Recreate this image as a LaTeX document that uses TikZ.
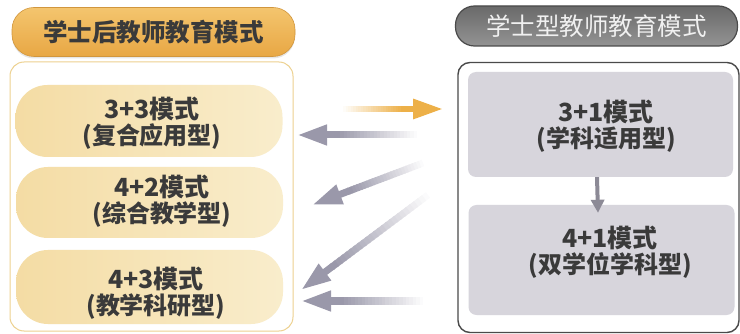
\documentclass[tikz,border=0pt]{standalone}
\usepackage{fontspec}
\setmainfont{Noto Sans CJK SC}
\usetikzlibrary{calc,arrows.meta,shadows}
\definecolor{orgA}{HTML}{F4C56E}
\definecolor{orgB}{HTML}{E8A744}
\definecolor{pillL}{HTML}{F4DCA4}
\definecolor{pillR}{HTML}{F9EDCC}
\definecolor{frameO}{HTML}{EDD190}
\definecolor{txt}{HTML}{3A3A3A}
\definecolor{gbox}{HTML}{D7D5DC}
\definecolor{frameG}{HTML}{4A4A4A}
\definecolor{gA}{HTML}{6A6A6A}
\definecolor{gB}{HTML}{939393}
\definecolor{arrG}{HTML}{9A98AA}
\definecolor{arrO}{HTML}{EDB048}
\definecolor{arrD}{HTML}{8C8A96}
\newcommand{\fadearrow}[4]{% from, to, color, shaft width
  \coordinate (fab) at ($(#2)!40pt!(#1)$);
  \foreach \i in {0,...,23}{
    \pgfmathtruncatemacro{\pct}{(\i+1)*100/24}
    \draw[line width=#4, #3!\pct!white] ($(#1)!\i/24!(fab)$) -- ($(#1)!{(\i+1.4)/24}!(fab)$);
  }
  \draw[#3, line width=#4, -{Triangle[length=30pt,width=19pt]}] (fab) -- (#2);
}
\tikzset{
  titleL/.style={rounded corners=22pt, top color=orgA, bottom color=orgB, draw=orgB!90!black, line width=0.6pt,
    minimum width=283pt, minimum height=49pt, text=txt, font=\fontsize{24.5}{28}\selectfont\bfseries,
    drop shadow={opacity=0.2, shadow xshift=0pt, shadow yshift=-2pt}},
  titleR/.style={rounded corners=19pt, top color=gA, bottom color=gB, draw=frameG, line width=1.2pt,
    minimum width=282pt, minimum height=40pt, text=white!94!black, font=\fontsize{24.5}{28}\selectfont},
  frameL/.style={rounded corners=14pt, draw=frameO, line width=1pt, fill=white},
  frameR/.style={rounded corners=12pt, draw=frameG, line width=1.4pt, fill=white},
  pill/.style={rounded corners=32pt, left color=pillL, right color=pillR, draw=none, minimum width=267pt},
  gboxst/.style={rounded corners=8pt, fill=gbox, draw=none},
  boxtext/.style={text=txt, align=center, font=\bfseries, inner sep=0pt},
}
\newcommand{\twolines}[2]{{\fontsize{25}{29}\selectfont #1}\\[2pt]{\fontsize{24}{29}\selectfont #2}}
\begin{document}
\begin{tikzpicture}[x=1pt,y=-1pt]
\useasboundingbox (0,0) rectangle (740,334);
% left side
\node[titleL] (LT) at (153.5,32) {学士后教师教育模式};
\node[frameL, minimum width=283pt, minimum height=269pt] (LF) at (151.5,196.5) {};
\node[pill, minimum height=72pt] (P1) at (149,121) {};
\node[pill, minimum height=71pt] (P2) at (149.5,202.5) {};
\node[pill, minimum height=74pt] (P3) at (149.5,287) {};
\node[boxtext] (P1t) at (152,123) {\twolines{3+3模式}{(复合应用型)}};
\node[boxtext] (P2t) at (162,201) {\twolines{4+2模式}{(综合教学型)}};
\node[boxtext] (P3t) at (156,293) {\twolines{4+3模式}{(教学科研型)}};
% right side
\node[titleR] (RT) at (596.5,26) {学士型教师教育模式};
\node[frameR, minimum width=281pt, minimum height=270pt] (RF) at (598.5,197.5) {};
\node[gboxst, minimum width=265pt, minimum height=105pt] (B1) at (600.5,124.5) {};
\node[gboxst, minimum width=266pt, minimum height=110pt] (B2) at (601.5,260) {};
\node[boxtext] (B1t) at (606,126) {\twolines{3+1模式}{(学科适用型)}};
\node[boxtext] (B2t) at (610,252) {\twolines{4+1模式}{(双学位学科型)}};
\draw[arrD, line width=4pt, -{Triangle[length=13pt,width=13pt]}] ($(B1.south)+(-3.5,0)$) -- ($(B2.north)+(-3.5,8)$);
% arrows
\coordinate (oa) at (343,109); \coordinate (ob) at (443,109);
\coordinate (g1a) at (417,135); \coordinate (g1b) at (297,135);
\coordinate (g2a) at (423,163); \coordinate (g2b) at (312,205);
\coordinate (g3a) at (428,195); \coordinate (g3b) at (301,290);
\coordinate (g4a) at (423,301); \coordinate (g4b) at (301,301);
\fadearrow{oa}{ob}{arrO}{6pt}
\fadearrow{g1a}{g1b}{arrG}{7pt}
\fadearrow{g2a}{g2b}{arrG}{7pt}
\fadearrow{g3a}{g3b}{arrG}{7pt}
\fadearrow{g4a}{g4b}{arrG}{7pt}
\end{tikzpicture}
\end{document}
